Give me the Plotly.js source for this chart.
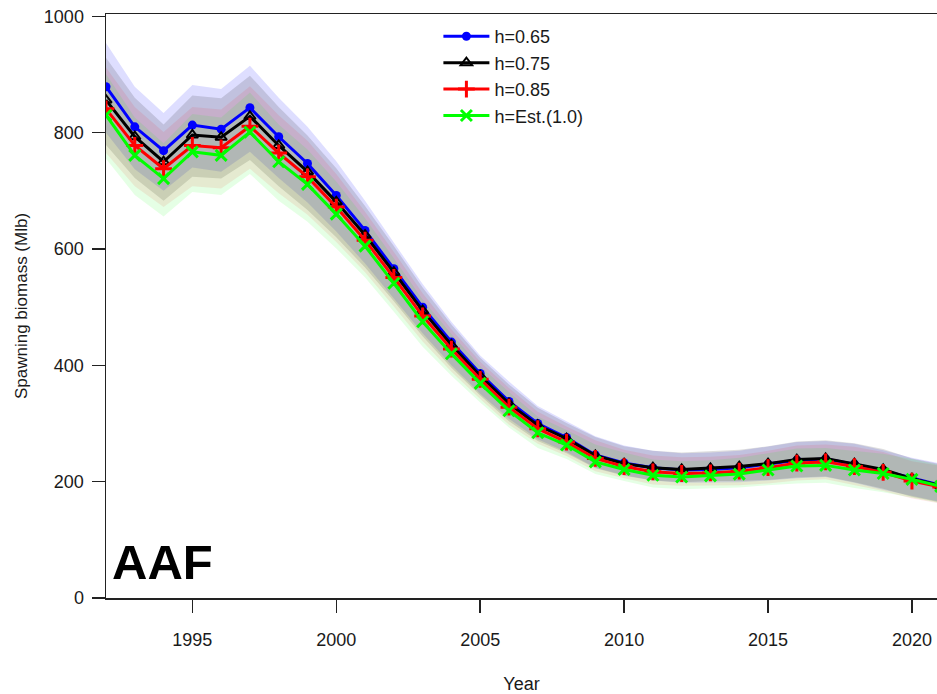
<!DOCTYPE html>
<html>
<head>
<meta charset="utf-8">
<script src="https://cdn.plot.ly/plotly-3.0.1.min.js"></script>
<style>html,body{margin:0;padding:0;background:#fff;}#chart{width:937px;height:694px;}</style>
</head>
<body>
<div id="chart"></div>
<script>
const years = [1992,1993,1994,1995,1996,1997,1998,1999,2000,2001,2002,2003,2004,2005,2006,2007,2008,2009,2010,2011,2012,2013,2014,2015,2016,2017,2018,2019,2020,2021];

const h065 = [879,810,769,813,806,843,793,747,692,632,566,500,440,386,338,300,276,246,232,224,220,221,224,230,237,239,230,219,206,194];
const h075 = [856,793,750,796,792,828,778,733,681,624,560,494,435,382,334,297,274,245,231,224,221,223,226,231,238,240,231,221,205,193];
const h085 = [841,778,738,778,774,811,765,724,672,615,551,485,428,376,328,291,268,240,226,217,214,215,218,224,232,234,226,216,201,191];
const hEst = [830,761,721,767,761,801,750,711,660,605,541,475,420,369,322,284,263,234,221,211,208,210,213,220,227,228,220,214,204,192];

const h065_hi = [954,879,834,882,875,915,860,810,751,683,611,540,475,417,372,330,304,278,262,253,249,250,253,260,268,270,265,254,241,231];
const h065_lo = [800,737,700,740,733,767,722,680,630,575,515,455,400,351,308,273,251,224,211,202,198,199,199,202,206,208,198,186,175,165];
const h075_hi = [929,860,814,864,859,898,844,795,739,674,605,534,470,413,367,327,301,277,261,253,250,252,255,261,269,271,266,256,240,230];
const h075_lo = [779,722,683,724,721,753,708,667,620,568,510,450,396,348,304,270,249,223,210,202,199,201,201,203,207,209,199,188,174,164];
const h085_hi = [912,844,801,844,840,880,830,786,729,664,595,524,462,406,361,320,295,271,255,245,242,243,246,253,262,264,260,251,235,227];
const h085_lo = [765,708,672,708,704,738,696,659,612,560,501,441,389,342,298,265,244,218,206,195,193,194,194,197,202,204,194,184,171,162];
const hEst_hi = [901,826,782,832,826,869,814,771,716,653,584,513,454,399,354,312,289,264,250,238,235,237,241,249,257,258,253,248,239,228];
const hEst_lo = [755,693,656,698,693,729,683,647,601,551,492,432,382,336,293,258,239,213,201,190,187,189,190,194,197,198,189,182,173,163];

const seriesNames = ["h=0.65","h=0.75","h=0.85","h=Est.(1.0)"];
const xTicks = [1995,2000,2005,2010,2015,2020];
const yTicks = [0,200,400,600,800,1000];

const series = [
  {name: seriesNames[0], y: h065, lo: h065_lo, hi: h065_hi, color: '#0000ff', band: 'rgba(0,0,255,0.13)', symbol: 'circle', msize: 9, mline: 0},
  {name: seriesNames[1], y: h075, lo: h075_lo, hi: h075_hi, color: '#000000', band: 'rgba(0,0,0,0.13)', symbol: 'triangle-up-open', msize: 10, mline: 2},
  {name: seriesNames[2], y: h085, lo: h085_lo, hi: h085_hi, color: '#ff0000', band: 'rgba(255,0,0,0.09)', symbol: 'cross-thin-open', msize: 12, mline: 3},
  {name: seriesNames[3], y: hEst, lo: hEst_lo, hi: hEst_hi, color: '#00ff00', band: 'rgba(0,255,0,0.1)', symbol: 'x-thin-open', msize: 11, mline: 3}
];

const traces = [];
series.forEach(s => {
  traces.push({x: years, y: s.lo, type: 'scatter', mode: 'lines', line: {width: 0, color: s.band}, showlegend: false, hoverinfo: 'skip'});
  traces.push({x: years, y: s.hi, type: 'scatter', mode: 'lines', fill: 'tonexty', fillcolor: s.band, line: {width: 0, color: s.band}, showlegend: false, hoverinfo: 'skip'});
});
series.forEach(s => {
  traces.push({
    x: years, y: s.y, name: s.name, type: 'scatter', mode: 'lines+markers',
    line: {color: s.color, width: 3},
    marker: {symbol: s.symbol, size: s.msize, color: s.color, line: {color: s.color, width: s.mline}}
  });
});

const fontFam = '"Liberation Sans", Arial, sans-serif';
const layout = {
  width: 937, height: 694,
  margin: {l: 106, r: 0, t: 14, b: 96, pad: 0},
  paper_bgcolor: '#ffffff', plot_bgcolor: '#ffffff',
  font: {family: fontFam, size: 18, color: '#1a1a1a'},
  showlegend: true,
  legend: {x: 0.4, xanchor: 'left', y: 0.993, yanchor: 'top', bgcolor: 'rgba(0,0,0,0)', borderwidth: 0,
           traceorder: 'normal',
           font: {family: fontFam, size: 18, color: '#1a1a1a'}, tracegroupgap: 0, itemwidth: 46},
  xaxis: {
    range: [1992, 2020.87], tickvals: xTicks, ticktext: xTicks.map(String),
    showline: true, linecolor: '#222', linewidth: 1.5, mirror: true,
    ticks: 'outside', ticklen: 13, tickwidth: 1.5, tickcolor: '#222',
    showgrid: false, zeroline: false, ticklabelstandoff: 12,
    tickfont: {family: fontFam, size: 18, color: '#1a1a1a'},
    title: {text: 'Year', font: {family: fontFam, size: 18, color: '#1a1a1a'}, standoff: 30}
  },
  yaxis: {
    range: [0, 1004], tickvals: yTicks, ticktext: yTicks.map(String),
    showline: true, linecolor: '#222', linewidth: 1.5, mirror: false,
    ticks: 'outside', ticklen: 13, tickwidth: 1.5, tickcolor: '#222',
    showgrid: false, zeroline: false, ticklabelstandoff: 4,
    tickfont: {family: fontFam, size: 18, color: '#1a1a1a'},
    title: {text: 'Spawning biomass (Mlb)', font: {family: fontFam, size: 17, color: '#1a1a1a'}, standoff: 12}
  },
  annotations: [{
    text: '<b>AAF</b>', xref: 'paper', yref: 'paper', x: 0.005, y: 0.012, xanchor: 'left', yanchor: 'bottom',
    showarrow: false, font: {family: fontFam, size: 49, color: '#000'}
  }]
};

Plotly.newPlot('chart', traces, layout, {displayModeBar: false, staticPlot: true});
</script>
</body>
</html>
